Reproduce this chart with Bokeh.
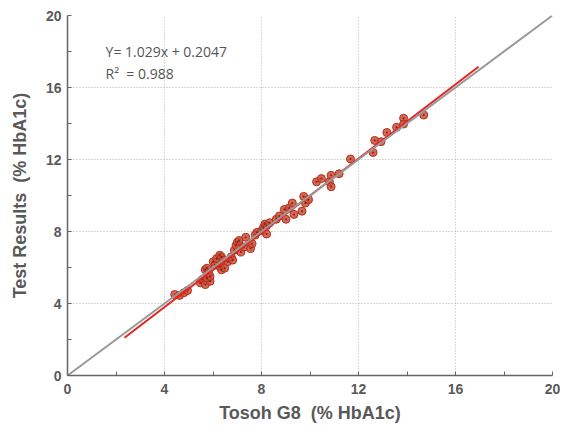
from bokeh.plotting import figure
from bokeh.models import Range1d, FixedTicker, Label
from bokeh.embed import file_html
from bokeh.resources import INLINE

# Data
tosoh = [4.42, 4.62, 4.80, 4.95,
         5.48, 5.55, 5.68, 5.88, 5.75, 5.88, 5.82, 5.68, 5.75, 6.01, 6.08, 6.15,
         6.28, 6.35, 6.41, 6.28, 6.35, 6.48, 6.61, 6.75, 6.81, 6.88, 6.95, 7.01,
         7.15, 7.08, 7.35, 7.28, 7.55, 7.61, 7.81, 7.74, 8.01, 8.08, 8.21, 8.14,
         8.34, 8.21, 8.61, 8.74, 8.94, 9.01, 9.14, 9.27, 9.34, 9.67, 9.74, 9.81,
         9.94, 10.27, 10.47, 10.80, 10.87, 10.87, 11.20, 11.67, 12.60, 12.67,
         12.93, 13.17, 13.57, 13.86, 13.86, 14.69]
test = [4.50, 4.45, 4.60, 4.72,
        5.15, 5.33, 5.05, 5.23, 5.42, 5.50, 5.69, 5.87, 5.96, 6.32, 6.14, 6.50,
        6.68, 6.59, 6.41, 6.05, 5.87, 5.96, 6.32, 6.59, 6.41, 6.96, 7.23, 7.41,
        6.86, 7.50, 7.68, 7.14, 7.05, 7.32, 7.95, 7.80, 8.04, 8.22, 7.86, 8.41,
        8.49, 8.32, 8.68, 8.86, 9.22, 8.68, 9.31, 9.58, 8.95, 9.13, 9.95, 9.58,
        9.77, 10.76, 10.94, 10.76, 11.12, 10.49, 11.21, 12.03, 12.39, 13.06,
        12.99, 13.50, 13.79, 14.29, 13.97, 14.47]

reg_x = [2.35, 16.95]
reg_y = [2.10, 17.15]
ident_x = [0, 20]
ident_y = [0, 20]

major_ticks = [0, 4, 8, 12, 16, 20]
minor_ticks = [2, 6, 10, 14, 18]
grid_ticks = [4, 8, 12, 16]

eq_text = "Y= 1.029x + 0.2047"
r2_text = "R\u00b2 \u00a0= 0.988"
x_title = "Tosoh G8 \u00a0(% HbA1c)"
y_title = "Test Results \u00a0(% HbA1c)"

p = figure(width=560, height=425, output_backend="svg", toolbar_location=None,
           x_range=Range1d(0, 20), y_range=Range1d(0, 20),
           min_border_left=67, min_border_right=8, min_border_top=15, min_border_bottom=47)
p.outline_line_color = None
p.background_fill_color = "white"

ink = "#595959"
for ax in (p.xaxis[0], p.yaxis[0]):
    ax.ticker = FixedTicker(ticks=major_ticks, minor_ticks=minor_ticks)
    ax.axis_line_color = "#666666"
    ax.axis_line_width = 1.5
    ax.major_tick_in = 4
    ax.major_tick_out = 0
    ax.minor_tick_in = 4
    ax.minor_tick_out = 0
    ax.major_tick_line_color = "#666666"
    ax.minor_tick_line_color = "#666666"
    ax.major_label_text_font = "Liberation Sans"
    ax.major_label_text_font_style = "bold"
    ax.major_label_text_font_size = "14px"
    ax.major_label_text_color = ink
    ax.axis_label_text_font = "Liberation Sans"
    ax.axis_label_text_font_style = "bold"
    ax.axis_label_text_font_size = "18px"
    ax.axis_label_text_color = ink

p.xaxis.axis_label = x_title
p.yaxis.axis_label = y_title
p.xaxis.major_label_standoff = 8
p.xaxis.axis_label_standoff = 6
p.yaxis.major_label_standoff = 6
p.yaxis.axis_label_standoff = 13

for g in (p.xgrid[0], p.ygrid[0]):
    g.ticker = FixedTicker(ticks=grid_ticks)
    g.grid_line_color = "#b0b0b0"
    g.grid_line_dash = "1 2"
    g.grid_line_width = 1

p.scatter(tosoh, test, size=8, marker="circle", fill_color="#c9503a", fill_alpha=0.85,
          line_color="#b3321f", line_width=1)
p.scatter(tosoh, test, size=2, marker="circle", fill_color="#8a1a12", line_color=None)
p.line(reg_x, reg_y, line_color="#e8231f", line_width=2)
p.line(ident_x, ident_y, line_color="#999999", line_width=2)

for txt, yy in ((eq_text, 18.02), (r2_text, 16.76)):
    p.add_layout(Label(x=1.57, y=yy, text=txt, text_font="Open Sans",
                       text_font_size="14px", text_color="#555555",
                       text_baseline="middle"))

open("out.html", "w").write(file_html(p, INLINE))
